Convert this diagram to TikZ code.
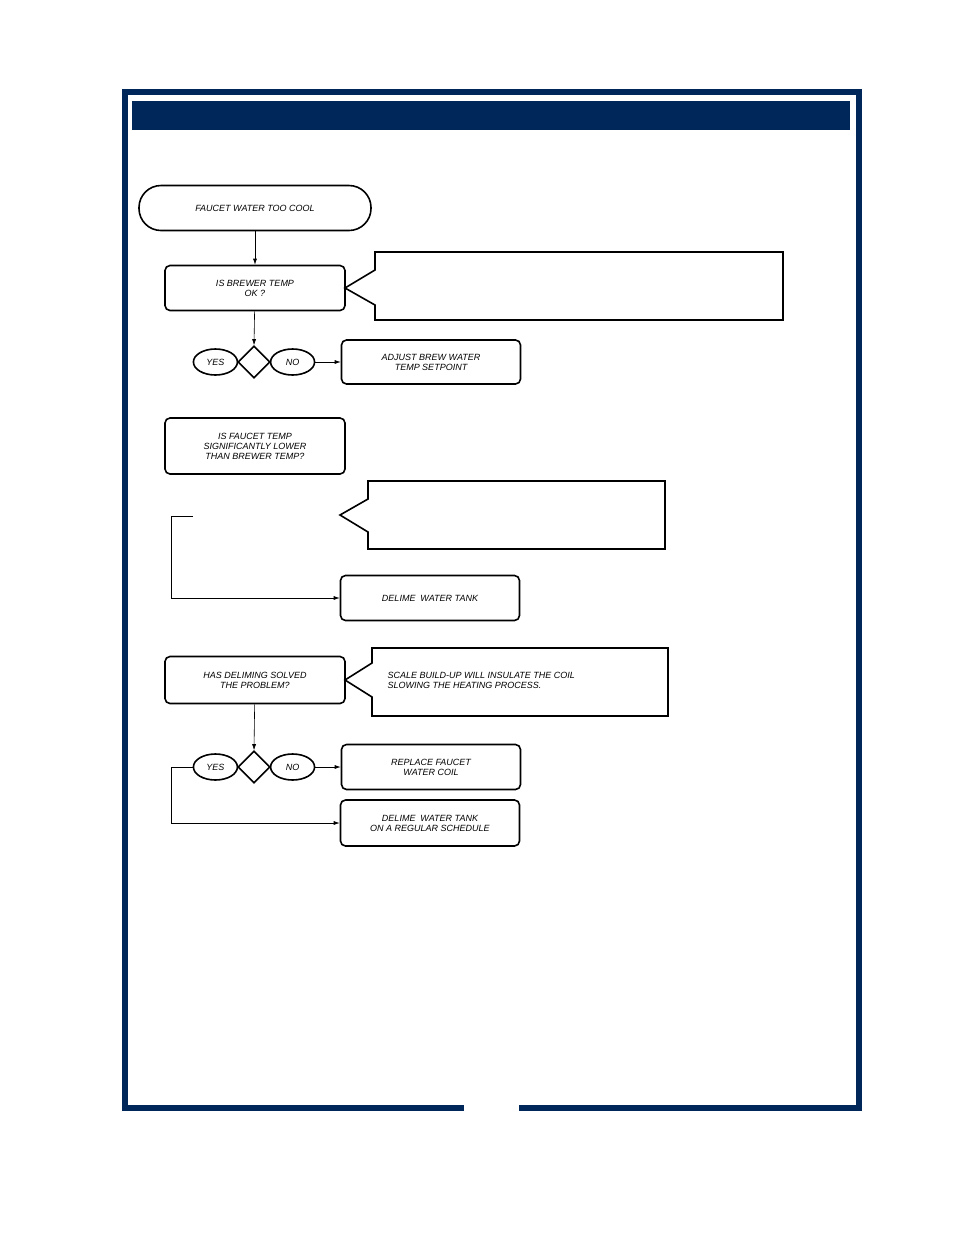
\documentclass[tikz,border=0pt]{standalone}
\usepackage{fontspec}
\setmainfont{Liberation Sans}
\usetikzlibrary{shapes.geometric,positioning,arrows.meta}
\definecolor{navy}{HTML}{00275A}
\tikzset{
  stepbox/.style={draw,line width=1.6pt,rounded corners=5pt,minimum width=180pt,minimum height=45pt,align=center,font=\fontsize{9}{10}\selectfont\itshape},
  oval/.style={draw,ellipse,line width=1.6pt,minimum width=44pt,minimum height=26pt,inner sep=0pt,font=\fontsize{9}{10}\selectfont\itshape},
  gate/.style={draw,diamond,line width=1.6pt,minimum width=32pt,minimum height=32pt,inner sep=0pt},
  callout/.style={line width=1.6pt},
  flow/.style={-{Latex[length=6pt,width=4pt]},line width=0.6pt}
}
\begin{document}
\begin{tikzpicture}[x=1pt,y=-1pt]
  \useasboundingbox (0,0) rectangle (954,1235);
  % Rahmen
  \draw[navy,line width=6pt] (464,1108) -- (125,1108) -- (125,92) -- (859,92) -- (859,1108) -- (519,1108);
  \fill[navy] (132,101) rectangle (850,130);

  % Start
  \node[stepbox,rounded corners=22pt,minimum width=232pt] (start) at (255,208) {FAUCET WATER TOO COOL};

  % Frage 1
  \node[stepbox] (brew) at (255,288) {IS BREWER TEMP\\OK ?};
  \draw[callout] (375,270) -- (375,252) -- (783,252) -- (783,320) -- (375,320) -- (375,305) -- (345,288) -- cycle;
  \node[gate] (d1) at (254,362) {};
  \node[oval,left=-1pt of d1] (yes1) {YES};
  \node[oval,right=-1pt of d1] (no1) {NO};
  \node[stepbox,minimum width=179pt,minimum height=44pt] (adjust) at (431,362) {ADJUST BREW WATER\\TEMP SETPOINT};
  \draw[flow] (start) -- (brew);
  \draw[flow] (brew) -- (d1.north);
  \draw[flow] (no1) -- (adjust);

  % Frage 2
  \node[stepbox,minimum height=56pt] (faucet) at (255,446) {IS FAUCET TEMP\\SIGNIFICANTLY LOWER\\THAN BREWER TEMP?};
  \draw[callout] (368,499) -- (368,481) -- (665,481) -- (665,549) -- (368,549) -- (368,532) -- (340,515) -- cycle;
  \node[stepbox,minimum width=179pt] (delime) at (430,598) {DELIME\ \ WATER TANK};
  \coordinate (free) at (193,516);
  \draw[flow] (free) -- (171,516) |- (delime.west);

  % Frage 3
  \node[stepbox,minimum height=47pt] (solved) at (255,680) {HAS DELIMING SOLVED\\THE PROBLEM?};
  \draw[callout] (372,663) -- (372,648) -- (668,648) -- (668,716) -- (372,716) -- (372,697) -- (345,680) -- cycle;
  \node[anchor=west,align=left,font=\fontsize{9}{10}\selectfont\itshape] (note) at (384,680) {SCALE BUILD-UP WILL INSULATE THE COIL\\SLOWING THE HEATING PROCESS.};
  \node[gate] (d2) at (254,767) {};
  \node[oval,left=-1pt of d2] (yes2) {YES};
  \node[oval,right=-1pt of d2] (no2) {NO};
  \node[stepbox,minimum width=179pt] (coil) at (431,767) {REPLACE FAUCET\\WATER COIL};
  \node[stepbox,minimum width=179pt,minimum height=46pt] (sched) at (430,823) {DELIME\ \ WATER TANK\\ON A REGULAR SCHEDULE};
  \draw[flow] (solved) -- (d2.north);
  \draw[flow] (no2) -- (coil);
  \draw[flow] (yes2.west) -- (171,767) |- (sched.west);
\end{tikzpicture}
\end{document}
